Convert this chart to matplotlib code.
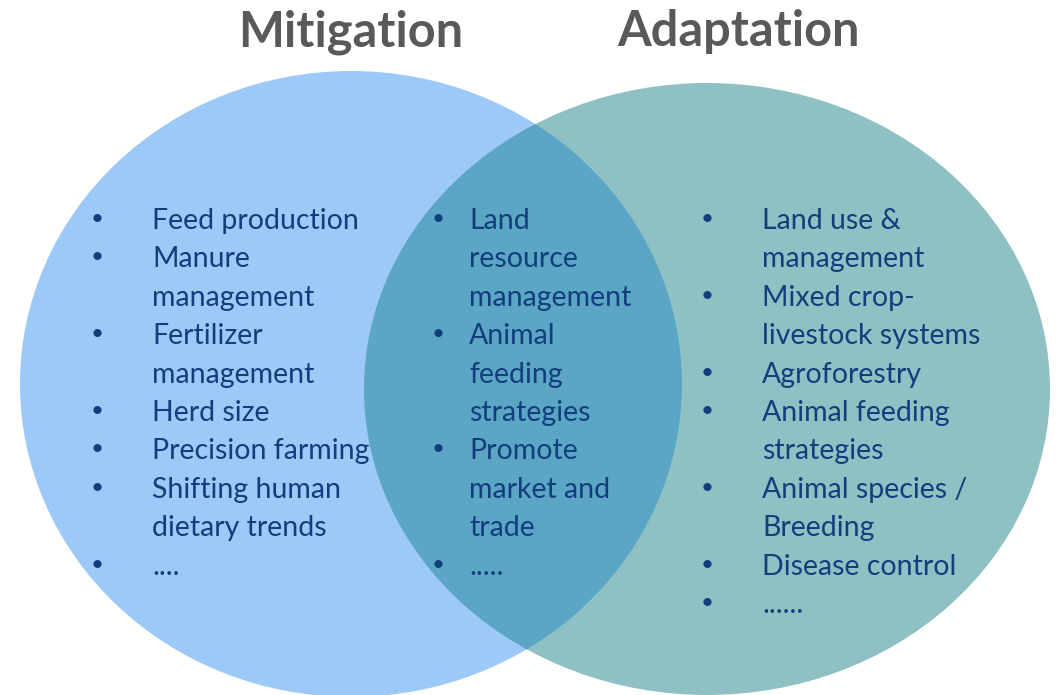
import matplotlib
matplotlib.use('Agg')
import matplotlib.pyplot as plt
from matplotlib.patches import Ellipse

# venn content
titles = ['Mitigation', 'Adaptation']
mitigation_items = ['Feed production', 'Manure\nmanagement', 'Fertilizer\nmanagement',
                    'Herd size', 'Precision farming', 'Shifting human\ndietary trends', '....']
both_items = ['Land\nresource\nmanagement', 'Animal\nfeeding\nstrategies',
              'Promote\nmarket and\ntrade', '.....']
adaptation_items = ['Land use &\nmanagement', 'Mixed crop-\nlivestock systems', 'Agroforestry',
                    'Animal feeding\nstrategies', 'Animal species /\nBreeding', 'Disease control', '......']

W, H = 1059, 695
fig = plt.figure(figsize=(W / 100, H / 100), dpi=100)
ax = fig.add_axes([0, 0, 1, 1])
ax.set_xlim(0, W)
ax.set_ylim(H, 0)
ax.axis('off')

left = Ellipse((351, 384), 662, 626, facecolor='#9DC9F8', edgecolor='none')
right = Ellipse((707, 389), 686, 612, facecolor='#8FC1C4', edgecolor='none')
ax.add_patch(left)
ax.add_patch(right)
# overlap area
mid = Ellipse((351, 384), 662, 626, facecolor='#5BA6C4', edgecolor='none')
ax.add_patch(mid)
mid.set_clip_path(right)

font = 'Lato'
txt_col = '#113E7C'
fs = 20.5
step = 38.4

ax.text(351, 32, titles[0], ha='center', va='center', fontsize=35, fontweight='bold',
        color='#595959', family=font)
ax.text(739, 32, titles[1], ha='center', va='center', fontsize=35, fontweight='bold',
        color='#595959', family=font)


def bullets(items, xb, xt, y0):
    y = y0
    for it in items:
        ax.text(xb, y - 2, '\u2022', ha='center', va='center', fontsize=16, color=txt_col, family=font)
        for ln in it.split('\n'):
            ax.text(xt, y, ln, ha='left', va='center', fontsize=fs, color=txt_col, family=font)
            y += step


bullets(mitigation_items, 97, 152, 221)
bullets(both_items, 438, 469, 221)
bullets(adaptation_items, 707, 762, 221)

fig.savefig('out.png', dpi=100)
